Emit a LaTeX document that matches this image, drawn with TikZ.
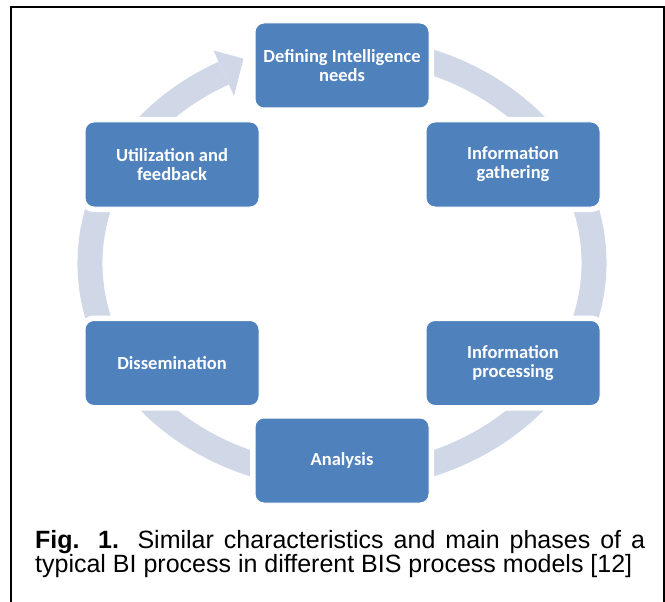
\documentclass[tikz,border=0pt]{standalone}
\usepackage{fontspec}
\setmainfont{Liberation Sans}
\newfontfamily\boxfont{Carlito}
\definecolor{boxblue}{RGB}{79,129,189}
\definecolor{ringblue}{RGB}{208,216,232}
\begin{document}
\begin{tikzpicture}[x=1pt,y=1pt,
  phase/.style={rounded corners=9pt, fill=boxblue, draw=white, line width=1pt,
    preaction={draw=white, line width=10pt},
    minimum width=174pt, minimum height=85pt, inner sep=0pt,
    text=white, align=center, font=\boxfont\bfseries\fontsize{18.5}{19}\selectfont},
  ring/.style={draw=ringblue, line width=25pt},
  frame/.style={draw=black, line width=2pt},
  captionline/.style={anchor=base west, inner sep=0pt, font=\fontsize{25}{24}\selectfont}]
\useasboundingbox (0,0) rectangle (665,-602);
% ring with arrow
\draw[ring] (342,-263) ++(118:252 and 215) arc[start angle=118, end angle=450, x radius=252, y radius=215];
\fill[ringblue] (213.4,-50.4) -- (243.5,-58.7) -- (234.0,-96.0) -- cycle;
% phases
\node[phase] (def)  at (342,-65.5)  {Defining Intelligence\\needs};
\node[phase] (gath) at (513,-164.5) {Information\\gathering};
\node[phase] (proc) at (513,-363)   {Information\\processing};
\node[phase] (ana)  at (342,-460.5) {Analysis};
\node[phase] (diss) at (172,-363)   {Dissemination};
\node[phase] (util) at (172,-164.5) {Utilization and\\feedback};
% caption
\node[captionline] (cap1) at (35,-548) {\makebox[610pt][s]{\textbf{Fig. 1.} Similar characteristics and main phases of a}};
\node[captionline] (cap2) at (35,-572) {typical BI process in different BIS process models [12]};
% frame
\draw[frame] (11,-602) -- (11,-7) -- (664,-7) -- (664,-602);
\end{tikzpicture}
\end{document}
